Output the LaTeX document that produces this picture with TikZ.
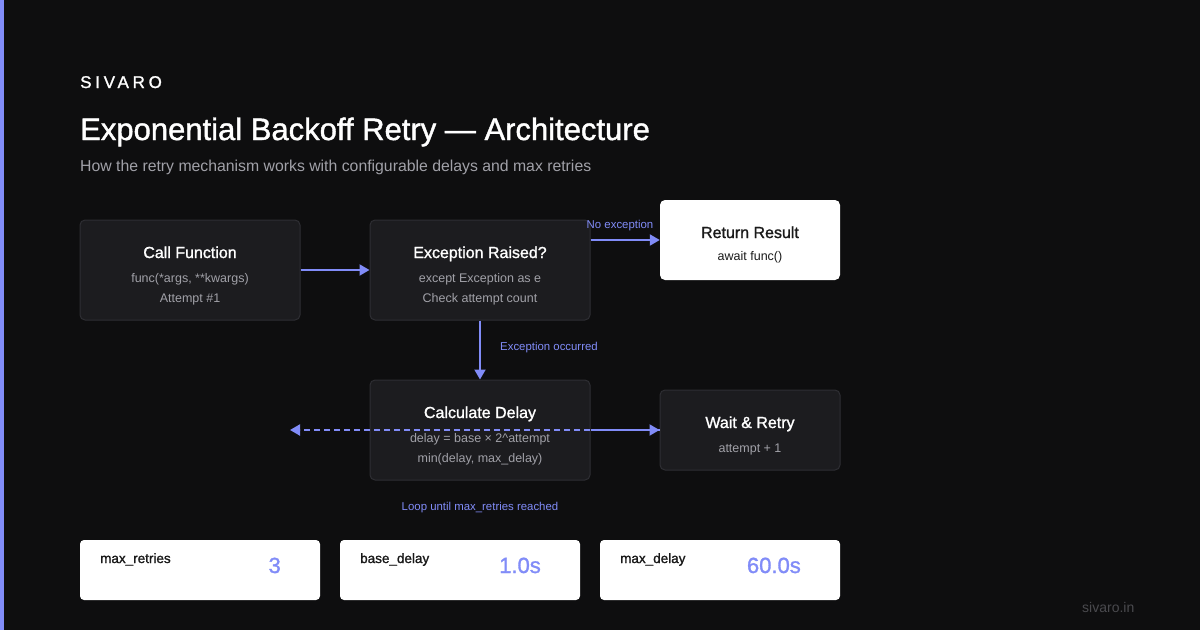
\documentclass[tikz,border=0pt]{standalone}
\usepackage{fontspec}
\setmainfont{Liberation Sans}
\newfontfamily\medfont{Liberation Sans}[FakeBold=1.3]
\usetikzlibrary{arrows.meta}
\definecolor{bg}{HTML}{0E0E0F}
\definecolor{accent}{HTML}{818CF8}
\definecolor{boxfill}{HTML}{1C1C1F}
\definecolor{boxline}{HTML}{2E2E33}
\definecolor{subgray}{HTML}{A1A1A8}
\definecolor{darktext}{HTML}{1A1A1A}
\definecolor{footgray}{HTML}{4A4A4E}
\newcommand{\fsz}[1]{\fontsize{#1}{#1}\selectfont}
\tikzset{
  darkbox/.style={draw=boxline, line width=1pt, fill=boxfill, rounded corners=5pt, inner sep=0pt},
  lightbox/.style={fill=white, rounded corners=5pt, inner sep=0pt},
  boxtitle/.style={anchor=base, text=white, font=\medfont\fsz{16}, inner sep=0pt},
  boxsub/.style={anchor=base, text=subgray, font=\fsz{12.5}, inner sep=0pt},
  flowlbl/.style={anchor=base, text=accent, font=\fsz{11.4}, inner sep=0pt},
  arr/.style={draw=accent, line width=2pt, -{Triangle[length=10pt,width=11pt]}},
  cardlbl/.style={anchor=base west, text=darktext, font=\medfont\fsz{13.5}, inner sep=0pt},
  cardval/.style={anchor=base east, text=accent, font=\medfont\fsz{22}, inner sep=0pt},
}
\begin{document}
\begin{tikzpicture}[x=1pt,y=-1pt]
\fill[bg] (0,0) rectangle (1200,630);
\useasboundingbox (0,0) rectangle (1200,630);
\fill[accent] (0,0) rectangle (4,630);

% header
\node[anchor=base west, inner sep=0pt, text=white, font=\medfont\fsz{17}\addfontfeature{LetterSpace=22}] (brand) at (80,88) {SIVARO};
\node[anchor=base west, inner sep=0pt, text=white, font=\medfont\fsz{31}] (title) at (80,140) {Exponential Backoff Retry — Architecture};
\node[anchor=base west, inner sep=0pt, text=subgray, font=\fsz{15.8}] (subtitle) at (80,171) {How the retry mechanism works with configurable delays and max retries};

% boxes
\node[darkbox, minimum width=220pt, minimum height=100pt] (call) at (190,270) {};
\node[darkbox, minimum width=220pt, minimum height=100pt] (exc) at (480,270) {};
\node[lightbox, minimum width=180pt, minimum height=80pt] (ret) at (750,240) {};
\node[darkbox, minimum width=220pt, minimum height=100pt] (calc) at (480,430) {};
\node[darkbox, minimum width=180pt, minimum height=80pt] (wait) at (750,430) {};

\node[boxtitle] (callT) at (190,258) {Call Function};
\node[boxsub] (callS1) at (190,282) {func(*args, **kwargs)};
\node[boxsub] (callS2) at (190,302) {Attempt \#1};

\node[boxtitle] (excT) at (480,258) {Exception Raised?};
\node[boxsub] (excS1) at (480,282) {except Exception as e};
\node[boxsub] (excS2) at (480,302) {Check attempt count};

\node[boxtitle, text=darktext] (retT) at (750,238) {Return Result};
\node[boxsub, text=darktext] (retS) at (750,260) {await func()};

\node[boxtitle] (calcT) at (480,418) {Calculate Delay};
\node[boxsub] (calcS1) at (480,442) {delay = base × 2\textasciicircum attempt};
\node[boxsub] (calcS2) at (480,462) {min(delay, max\_delay)};

\node[boxtitle] (waitT) at (750,428) {Wait \& Retry};
\node[boxsub] (waitS) at (750,452) {attempt + 1};

% connectors
\coordinate (loopend) at (290,430);
\draw[arr] (call.east) -- (exc.west);
\draw[arr] (exc.east |- ret.west) -- (ret.west);
\draw[arr] (exc.south) -- (calc.north);
\draw[arr] (calc.east |- wait.west) -- (wait.west);
\draw[arr, dash pattern=on 6pt off 4pt] (wait.west) -- (loopend);

\node[flowlbl] (lblNo) at (620,228) {No exception};
\node[flowlbl, anchor=base west] (lblExc) at (500,350) {Exception occurred};
\node[flowlbl] (lblLoop) at (480,510) {Loop until max\_retries reached};

% config cards
\node[lightbox, rounded corners=4pt, minimum width=240pt, minimum height=60pt] (card1) at (200,570) {};
\node[lightbox, rounded corners=4pt, minimum width=240pt, minimum height=60pt] (card2) at (460,570) {};
\node[lightbox, rounded corners=4pt, minimum width=240pt, minimum height=60pt] (card3) at (720,570) {};
\node[cardlbl] (c1l) at (100,563) {max\_retries};
\node[cardval] (c1v) at (281,573) {3};
\node[cardlbl] (c2l) at (360,563) {base\_delay};
\node[cardval] (c2v) at (541,573) {1.0s};
\node[cardlbl] (c3l) at (620,563) {max\_delay};
\node[cardval] (c3v) at (801,573) {60.0s};

\node[anchor=base west, inner sep=0pt, text=footgray, font=\fsz{14}] (footer) at (1082,612) {sivaro.in};
\end{tikzpicture}
\end{document}
